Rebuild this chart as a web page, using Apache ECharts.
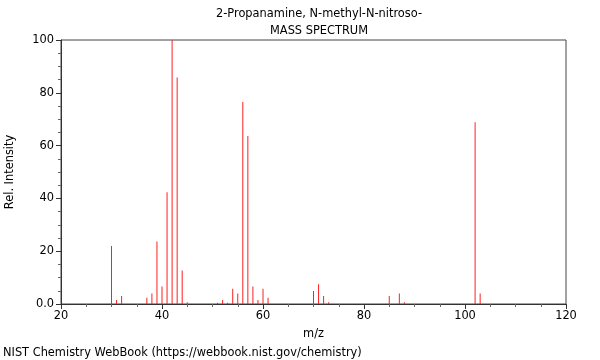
<!DOCTYPE html>
<html>
<head>
<meta charset="utf-8">
<script src="https://cdn.jsdelivr.net/npm/echarts@6/dist/echarts.min.js"></script>
<style>html,body{margin:0;padding:0;background:#fff}#c{width:600px;height:360px}</style>
</head>
<body>
<div id="c"></div>
<script>
const mz = [30,31,32,37,38,39,40,41,42,43,44,45,51,52,53,54,55,56,57,58,59,60,61,70,71,72,73,85,87,88,102,103];
const intensity = [22,1.5,3,2.4,4,23.7,6.6,42.3,100,85.8,12.7,0.7,0.5,1.5,0.5,5.8,4,76.5,63.6,6.6,1.5,5.8,2.4,4.9,7.5,3,0.7,3,4,0.7,68.8,4];
const titleLines = ["2-Propanamine, N-methyl-N-nitroso-", "MASS SPECTRUM"];
const footer = "NIST Chemistry WebBook (https://webbook.nist.gov/chemistry)";
const xName = "m/z", yName = "Rel. Intensity";

const font = "DejaVu Sans";
const fs = 11.4;
const axisColor = "#333";
const chart = echarts.init(document.getElementById('c'), null, {renderer:'canvas'});
chart.setOption({
  animation:false,
  textStyle:{fontFamily:font},
  title:[
    {text:titleLines[0], left:314, top:4, textAlign:'center', textStyle:{fontSize:fs, fontWeight:'normal', color:'#000', fontFamily:font}},
    {text:titleLines[1], left:314, top:21, textAlign:'center', textStyle:{fontSize:fs, fontWeight:'normal', color:'#000', fontFamily:font}}
  ],
  graphic:[{type:'text', left:3, top:348, style:{text:footer, fontSize:fs, fill:'#000', fontFamily:font}}],
  grid:{left:61, right:34, top:40, bottom:56, show:true, borderColor:'#444', borderWidth:1, outerBoundsMode:'none', containLabel:false},
  xAxis:{type:'value', min:20, max:120, interval:20, name:xName, nameLocation:'middle', nameGap:25,
    nameTextStyle:{fontSize:fs, color:'#000', fontFamily:font},
    axisLine:{lineStyle:{color:axisColor}},
    axisTick:{show:true, length:5, lineStyle:{color:axisColor}},
    minorTick:{show:true, splitNumber:4, length:3, lineStyle:{color:'#666'}},
    axisLabel:{fontSize:fs, color:'#000', margin:7, fontFamily:font},
    splitLine:{show:false}},
  yAxis:{type:'value', min:0, max:100, interval:20, name:yName, nameLocation:'middle', nameGap:45,
    nameTextStyle:{fontSize:fs, color:'#000', fontFamily:font},
    axisLine:{show:true, lineStyle:{color:axisColor}},
    axisTick:{show:true, length:5, lineStyle:{color:axisColor}},
    minorTick:{show:true, splitNumber:4, length:3, lineStyle:{color:'#666'}},
    axisLabel:{fontSize:fs, color:'#000', margin:7, fontFamily:font, formatter:v=> v===0 ? '0.0' : String(v)},
    splitLine:{show:false}},
  series:[{type:'bar', data:mz.map((m,i)=>[m,intensity[i]]), barWidth:1, itemStyle:{color:'#ff2020'}, silent:true}]
});
</script>
</body>
</html>
